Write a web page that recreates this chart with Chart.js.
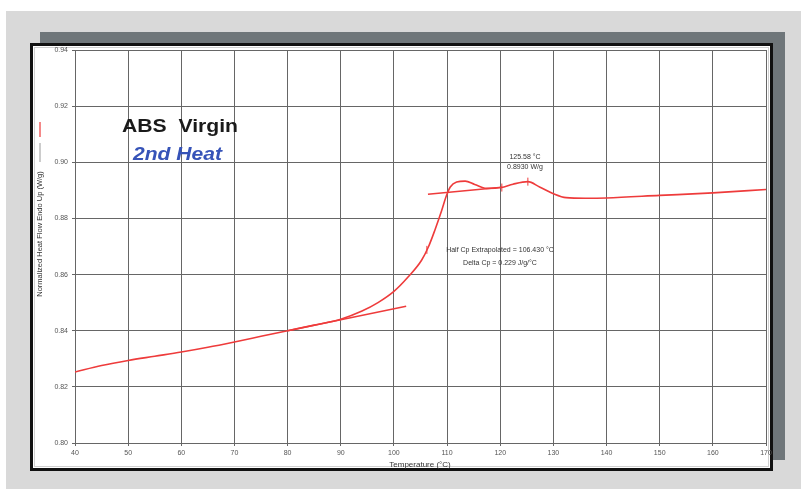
<!DOCTYPE html>
<html><head><meta charset="utf-8">
<script src="https://cdn.jsdelivr.net/npm/chart.js@4/dist/chart.umd.min.js"></script>
<style>html,body{margin:0;padding:0;background:#fff;}#wrap{width:801px;height:489px;position:relative}</style>
</head><body><div id="wrap"><canvas id="c" width="801" height="489"></canvas></div>
<script>
// Main DSC curve (temperature °C, normalized heat flow W/g)
const temperature = [40,45,50,55,60,65,70,75,80,85,90,94,97,100,102.7,105.2,106.5,107.7,109,109.8,110.6,111.8,113.4,115.2,117.4,120.2,122.4,125.2,127.4,129.9,132.4,136,140,150,160,170];
const heatFlow    = [0.8253,0.8276,0.8294,0.8309,0.8324,0.8341,0.8360,0.8380,0.8400,0.8420,0.8441,0.8470,0.8500,0.8540,0.8592,0.8651,0.8699,0.8758,0.8829,0.8877,0.8912,0.8930,0.8933,0.8921,0.8907,0.8910,0.8922,0.8931,0.8912,0.8889,0.8874,0.8872,0.8873,0.8882,0.8891,0.8903];
// Tangent (extrapolation) lines
const baselineTangentT = [80, 102.3];
const baselineTangentV = [0.8400, 0.8487];
const plateauTangentT  = [106.4, 120.3];
const plateauTangentV  = [0.8886, 0.8911];
// Analysis markers
const markerT = [106.2, 120.3, 125.2];
const markerV = [0.8688, 0.8910, 0.8931];
// Axis ticks
const xTicks = [40,50,60,70,80,90,100,110,120,130,140,150,160,170];
const yTicks = [0.80,0.82,0.84,0.86,0.88,0.90,0.92,0.94];

const pts = (xs, ys) => xs.map((x, i) => ({x: x, y: ys[i]}));
const RED = '#ee3b3b';

const bgPlugin = {
  id: 'bg',
  beforeDraw(chart) {
    const c = chart.ctx;
    c.save();
    c.fillStyle = '#ffffff'; c.fillRect(0, 0, 801, 489);
    c.fillStyle = '#d9d9d9'; c.fillRect(6, 11, 795, 478);
    c.fillStyle = '#6f767a'; c.fillRect(40, 32, 745, 428);
    c.fillStyle = '#ffffff'; c.fillRect(30, 43, 743, 428);
    c.strokeStyle = '#111'; c.lineWidth = 3; c.strokeRect(31.5, 44.5, 740, 425);
    c.strokeStyle = '#d0d0d0'; c.lineWidth = 1; c.strokeRect(34.5, 47.5, 734, 419);
    c.restore();
  }
};

function stretchText(c, txt, x, y, targetW) {
  const w = c.measureText(txt).width;
  c.save(); c.translate(x, y); c.scale(targetW / w, 1); c.fillText(txt, 0, 0); c.restore();
}

const textPlugin = {
  id: 'texts',
  afterDraw(chart) {
    const c = chart.ctx;
    c.save();
    c.textBaseline = 'alphabetic'; c.textAlign = 'left';
    c.fillStyle = '#1a1a1a';
    c.font = 'bold 18px "Liberation Sans", Arial, sans-serif';
    stretchText(c, 'ABS  Virgin', 122, 132, 116);
    c.fillStyle = '#3653b8';
    c.font = 'italic bold 18px "Liberation Sans", Arial, sans-serif';
    stretchText(c, '2nd Heat', 133, 160, 89);

    c.fillStyle = '#333';
    c.textAlign = 'center'; c.textBaseline = 'middle';
    c.font = '7px "Liberation Sans", Arial, sans-serif';
    c.fillText('125.58 °C', 525, 157);
    c.fillText('0.8930 W/g', 525, 167);
    c.fillText('Half Cp Extrapolated = 106.430 °C', 500, 250);
    c.fillText('Delta Cp = 0.229 J/g/°C', 500, 263);

    c.font = '8px "Liberation Sans", Arial, sans-serif';
    c.fillText('Temperature (°C)', 420, 465);

    c.save();
    c.translate(40, 234); c.rotate(-Math.PI / 2);
    c.font = '7.5px "Liberation Sans", Arial, sans-serif';
    c.fillText('Normalized Heat Flow Endo Up (W/g)', 0, 0);
    c.restore();

    c.lineWidth = 1.5; c.strokeStyle = '#f06060';
    c.beginPath(); c.moveTo(40, 122); c.lineTo(40, 137); c.stroke();
    c.lineWidth = 1; c.strokeStyle = '#999';
    c.beginPath(); c.moveTo(40, 143); c.lineTo(40, 162); c.stroke();
    c.restore();
  }
};

new Chart(document.getElementById('c'), {
  type: 'scatter',
  data: {
    datasets: [
      { data: pts(temperature, heatFlow), showLine: true, borderColor: RED, borderWidth: 1.6,
        pointRadius: 0, cubicInterpolationMode: 'monotone', fill: false },
      { data: pts(baselineTangentT, baselineTangentV), showLine: true, borderColor: RED, borderWidth: 1.4,
        pointRadius: 0, fill: false },
      { data: pts(plateauTangentT, plateauTangentV), showLine: true, borderColor: RED, borderWidth: 1.4,
        pointRadius: 0, fill: false },
      { data: pts(markerT, markerV), showLine: false, pointStyle: 'line', rotation: 90,
        pointRadius: 4, borderColor: RED, backgroundColor: RED, borderWidth: 1 }
    ]
  },
  options: {
    responsive: false, animation: false, devicePixelRatio: 1,
    layout: { padding: { left: 45, right: 35, top: 50, bottom: 26 } },
    plugins: { legend: { display: false }, tooltip: { enabled: false } },
    scales: {
      x: {
        type: 'linear', min: 40, max: 170,
        afterBuildTicks: s => { s.ticks = xTicks.map(v => ({ value: v })); },
        afterFit: s => { s.height = 20; },
        ticks: { font: { size: 7, family: '"Liberation Sans", Arial' }, color: '#555', padding: 3, maxRotation: 0 },
        grid: { color: '#666', lineWidth: 1, tickLength: 3 },
        border: { color: '#666' }
      },
      y: {
        type: 'linear', min: 0.80, max: 0.94,
        afterBuildTicks: s => { s.ticks = yTicks.map(v => ({ value: v })); },
        afterFit: s => { s.width = 30; },
        ticks: { font: { size: 7, family: '"Liberation Sans", Arial' }, color: '#555', padding: 4,
          callback: v => v.toFixed(2) },
        grid: { color: '#666', lineWidth: 1, tickLength: 3 },
        border: { color: '#666' }
      }
    }
  },
  plugins: [bgPlugin, textPlugin]
});
</script>
</body></html>
